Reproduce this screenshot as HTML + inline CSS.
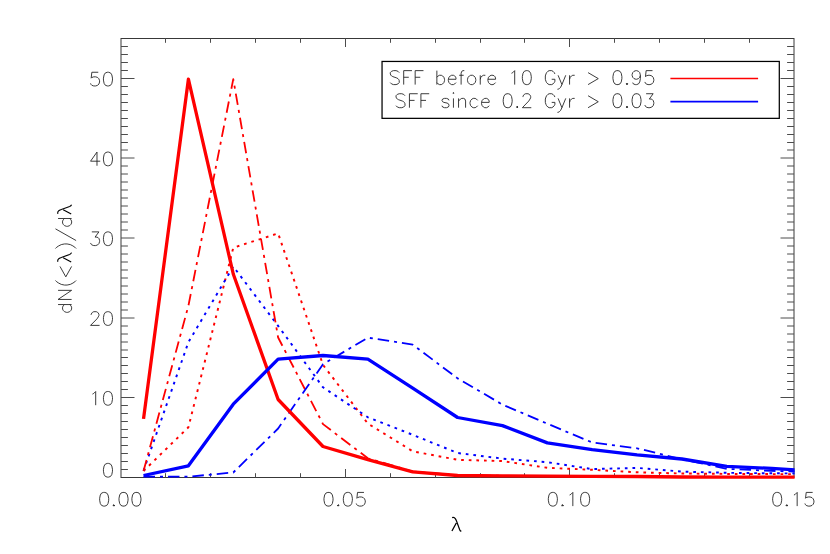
<!DOCTYPE html>
<html><head><meta charset="utf-8"><title>plot</title>
<style>html,body{margin:0;padding:0;background:#fff;font-family:"Liberation Sans",sans-serif;overflow:hidden}svg{display:block;position:absolute;left:0;top:0}</style>
</head><body>
<svg width="830" height="554" viewBox="0 0 830 554">
<rect x="0" y="0" width="830" height="554" fill="#fff"/>
<rect x="121" y="38.5" width="673" height="439" fill="none" stroke="#383838" stroke-width="1"/>
<path d="M165.5,477.5v-4.3M165.5,38.5v4.3M210.5,477.5v-4.3M210.5,38.5v4.3M255.5,477.5v-4.3M255.5,38.5v4.3M300.5,477.5v-4.3M300.5,38.5v4.3M345.5,477.5v-8.5M345.5,38.5v8.5M390.5,477.5v-4.3M390.5,38.5v4.3M435.5,477.5v-4.3M435.5,38.5v4.3M480.5,477.5v-4.3M480.5,38.5v4.3M524.5,477.5v-4.3M524.5,38.5v4.3M569.5,477.5v-8.5M569.5,38.5v8.5M614.5,477.5v-4.3M614.5,38.5v4.3M659.5,477.5v-4.3M659.5,38.5v4.3M704.5,477.5v-4.3M704.5,38.5v4.3M749.5,477.5v-4.3M749.5,38.5v4.3M121,469.5h6.9M794,469.5h-6.9M121,461.5h6.9M794,461.5h-6.9M121,453.5h6.9M794,453.5h-6.9M121,445.5h6.9M794,445.5h-6.9M121,437.5h6.9M794,437.5h-6.9M121,429.5h6.9M794,429.5h-6.9M121,421.5h6.9M794,421.5h-6.9M121,413.5h6.9M794,413.5h-6.9M121,405.5h6.9M794,405.5h-6.9M121,397.5h13.5M794,397.5h-13.5M121,389.5h6.9M794,389.5h-6.9M121,381.5h6.9M794,381.5h-6.9M121,373.5h6.9M794,373.5h-6.9M121,365.5h6.9M794,365.5h-6.9M121,357.5h6.9M794,357.5h-6.9M121,350h6.9M794,350h-6.9M121,342h6.9M794,342h-6.9M121,334h6.9M794,334h-6.9M121,326h6.9M794,326h-6.9M121,318h13.5M794,318h-13.5M121,310h6.9M794,310h-6.9M121,302h6.9M794,302h-6.9M121,294h6.9M794,294h-6.9M121,286h6.9M794,286h-6.9M121,278h6.9M794,278h-6.9M121,270h6.9M794,270h-6.9M121,262h6.9M794,262h-6.9M121,254h6.9M794,254h-6.9M121,246h6.9M794,246h-6.9M121,238h13.5M794,238h-13.5M121,230h6.9M794,230h-6.9M121,222h6.9M794,222h-6.9M121,214h6.9M794,214h-6.9M121,206h6.9M794,206h-6.9M121,198h6.9M794,198h-6.9M121,190h6.9M794,190h-6.9M121,182h6.9M794,182h-6.9M121,174h6.9M794,174h-6.9M121,166h6.9M794,166h-6.9M121,158h13.5M794,158h-13.5M121,150h6.9M794,150h-6.9M121,142.5h6.9M794,142.5h-6.9M121,134.5h6.9M794,134.5h-6.9M121,126.5h6.9M794,126.5h-6.9M121,118.5h6.9M794,118.5h-6.9M121,110.5h6.9M794,110.5h-6.9M121,102.5h6.9M794,102.5h-6.9M121,94.5h6.9M794,94.5h-6.9M121,86.5h6.9M794,86.5h-6.9M121,78.5h13.5M794,78.5h-13.5M121,70.5h6.9M794,70.5h-6.9M121,62.5h6.9M794,62.5h-6.9M121,54.5h6.9M794,54.5h-6.9M121,46.5h6.9M794,46.5h-6.9" fill="none" stroke="#4c4c4c" stroke-width="1"/>
<defs><clipPath id="cp"><rect x="120.1" y="38.5" width="674.5" height="441.15"/></clipPath></defs>
<g clip-path="url(#cp)" fill="none" stroke-linecap="butt">
<polyline points="143.53,471 188.4,427.3 233.27,247.7 278.13,233.4 323,364.9 367.87,423.6 412.73,451.3 457.6,459.8 502.47,461.1 547.33,467.8 592.2,469.8 637.07,472.3 681.93,473.5 726.8,473.9 771.67,474.1 816.53,474.1" stroke="#ff0000" stroke-width="1.95" stroke-dasharray="2.7 4.92" stroke-linejoin="round"/>
<polyline points="143.53,470.7 188.4,342.2 233.27,266.5 278.13,325.9 323,387.3 367.87,417.3 412.73,434.8 457.6,453 502.47,458.6 547.33,462.2 592.2,469.1 637.07,467.9 681.93,471.6 726.8,472.8 771.67,473.3 816.53,473.5" stroke="#0000ff" stroke-width="1.95" stroke-dasharray="2.7 4.92" stroke-linejoin="round"/>
<polyline points="143.53,471 188.4,305.8 233.27,79.1 278.13,337.5 323,424.1 367.87,458.3 412.73,471.5 457.6,475.3 502.47,475.8 547.33,476.1 592.2,476.2 637.07,476.4 681.93,476.9 726.8,477 771.67,477 816.53,477" stroke="#ff0000" stroke-width="1.8" stroke-dasharray="11.5 5.01 3 5.02" stroke-linejoin="round"/>
<polyline points="143.53,476.7 188.4,476.7 233.27,472.5 278.13,428.5 323,364.2 367.87,337.7 412.73,344.6 457.6,378.4 502.47,404.6 547.33,423.7 592.2,442.5 637.07,448.3 681.93,459.3 726.8,468.8 771.67,470.9 816.53,472.3" stroke="#0000ff" stroke-width="1.8" stroke-dasharray="11.5 4.97 3 4.97" stroke-linejoin="round"/>
<polyline points="143.53,418.9 188.4,79.2 233.27,274 278.13,399.5 323,446.5 367.87,459.6 412.73,471.85 457.6,475.5 502.47,475.9 547.33,476.2 592.2,476.3 637.07,476.5 681.93,477 726.8,477.1 771.67,477.1 816.53,477.1" stroke="#ff0000" stroke-width="3.3" stroke-linejoin="round"/>
<polyline points="143.53,475.5 188.4,465.8 233.27,404.2 278.13,359.2 323,355.5 367.87,359.1 412.73,388.1 457.6,417.5 502.47,425.6 547.33,442.9 592.2,449.6 637.07,454.9 681.93,459 726.8,466.4 771.67,468.4 816.53,471.4" stroke="#0000ff" stroke-width="3.3" stroke-linejoin="round"/>
</g>
<rect x="382.05" y="61.45" width="397.25" height="56.9" fill="#fff" stroke="#000" stroke-width="1.25"/>
<path d="M670.4,78.45H758.1" stroke="#ff0000" stroke-width="1.6" fill="none"/>
<path d="M670.4,101.6H758.1" stroke="#0000ff" stroke-width="1.6" fill="none"/>
<path d="M399.22,72.63L397.95,71.3L396.03,70.63L393.48,70.63L391.57,71.3L390.29,72.63L390.29,73.96L390.93,75.29L391.57,75.95L392.84,76.62L396.67,77.95L397.95,78.61L398.59,79.28L399.22,80.61L399.22,82.6L397.95,83.93L396.03,84.6L393.48,84.6L391.57,83.93L390.29,82.6M403.69,70.63L403.69,84.6M403.69,70.63L411.98,70.63M403.69,77.28L408.79,77.28M415.17,70.63L415.17,84.6M415.17,70.63L423.47,70.63M415.17,77.28L420.28,77.28M436.87,70.63L436.87,84.6M436.87,77.28L438.14,75.95L439.42,75.29L441.33,75.29L442.61,75.95L443.88,77.28L444.52,79.28L444.52,80.61L443.88,82.6L442.61,83.93L441.33,84.6L439.42,84.6L438.14,83.93L436.87,82.6M448.35,79.28L456.01,79.28L456.01,77.95L455.37,76.62L454.73,75.95L453.45,75.29L451.54,75.29L450.26,75.95L448.99,77.28L448.35,79.28L448.35,80.61L448.99,82.6L450.26,83.93L451.54,84.6L453.45,84.6L454.73,83.93L456.01,82.6M464.3,70.63L463.02,70.63L461.75,71.3L461.11,73.29L461.11,84.6M459.2,75.29L463.66,75.29M470.68,75.29L469.4,75.95L468.13,77.28L467.49,79.28L467.49,80.61L468.13,82.6L469.4,83.93L470.68,84.6L472.59,84.6L473.87,83.93L475.15,82.6L475.78,80.61L475.78,79.28L475.15,77.28L473.87,75.95L472.59,75.29L470.68,75.29M480.25,75.29L480.25,84.6M480.25,79.28L480.89,77.28L482.16,75.95L483.44,75.29L485.35,75.29M487.91,79.28L495.56,79.28L495.56,77.95L494.92,76.62L494.29,75.95L493.01,75.29L491.1,75.29L489.82,75.95L488.54,77.28L487.91,79.28L487.91,80.61L488.54,82.6L489.82,83.93L491.1,84.6L493.01,84.6L494.29,83.93L495.56,82.6M511.51,73.29L512.79,72.63L514.7,70.63L514.7,84.6M526.19,70.63L524.27,71.3L523,73.29L522.36,76.62L522.36,78.61L523,81.94L524.27,83.93L526.19,84.6L527.46,84.6L529.38,83.93L530.65,81.94L531.29,78.61L531.29,76.62L530.65,73.29L529.38,71.3L527.46,70.63L526.19,70.63M554.9,73.96L554.26,72.63L552.98,71.3L551.71,70.63L549.15,70.63L547.88,71.3L546.6,72.63L545.96,73.96L545.33,75.95L545.33,79.28L545.96,81.27L546.6,82.6L547.88,83.93L549.15,84.6L551.71,84.6L552.98,83.93L554.26,82.6L554.9,81.27L554.9,79.28M551.71,79.28L554.9,79.28M558.09,75.29L561.91,84.6M565.74,75.29L561.91,84.6L560.64,87.26L559.36,88.59L558.09,89.25L557.45,89.25M569.57,75.29L569.57,84.6M569.57,79.28L570.21,77.28L571.48,75.95L572.76,75.29L574.67,75.29M588.07,72.63L598.28,78.61L588.07,84.6M616.78,70.63L614.87,71.3L613.59,73.29L612.95,76.62L612.95,78.61L613.59,81.94L614.87,83.93L616.78,84.6L618.06,84.6L619.97,83.93L621.25,81.94L621.89,78.61L621.89,76.62L621.25,73.29L619.97,71.3L618.06,70.63L616.78,70.63M626.99,83.27L626.35,83.93L626.99,84.6L627.63,83.93L626.99,83.27M640.39,75.29L639.75,77.28L638.47,78.61L636.56,79.28L635.92,79.28L634.01,78.61L632.73,77.28L632.09,75.29L632.09,74.62L632.73,72.63L634.01,71.3L635.92,70.63L636.56,70.63L638.47,71.3L639.75,72.63L640.39,75.29L640.39,78.61L639.75,81.94L638.47,83.93L636.56,84.6L635.28,84.6L633.37,83.93L632.73,82.6M652.51,70.63L646.13,70.63L645.49,76.62L646.13,75.95L648.04,75.29L649.96,75.29L651.87,75.95L653.15,77.28L653.79,79.28L653.79,80.61L653.15,82.6L651.87,83.93L649.96,84.6L648.04,84.6L646.13,83.93L645.49,83.27L644.85,81.94M404.97,95.73L403.69,94.4L401.78,93.73L399.22,93.73L397.31,94.4L396.03,95.73L396.03,97.06L396.67,98.39L397.31,99.06L398.59,99.72L402.41,101.05L403.69,101.72L404.33,102.38L404.97,103.71L404.97,105.7L403.69,107.03L401.78,107.7L399.22,107.7L397.31,107.03L396.03,105.7M409.43,93.73L409.43,107.7M409.43,93.73L417.73,93.73M409.43,100.39L414.54,100.39M420.92,93.73L420.92,107.7M420.92,93.73L429.21,93.73M420.92,100.39L426.02,100.39M448.99,100.39L448.35,99.06L446.44,98.39L444.52,98.39L442.61,99.06L441.97,100.39L442.61,101.72L443.88,102.38L447.07,103.05L448.35,103.71L448.99,105.04L448.99,105.7L448.35,107.03L446.44,107.7L444.52,107.7L442.61,107.03L441.97,105.7M452.82,93.07L453.45,93.73L454.09,93.07L453.45,92.41L452.82,93.07M453.45,98.39L453.45,107.7M458.56,98.39L458.56,107.7M458.56,101.05L460.47,99.06L461.75,98.39L463.66,98.39L464.94,99.06L465.58,101.05L465.58,107.7M477.7,100.39L476.42,99.06L475.15,98.39L473.23,98.39L471.96,99.06L470.68,100.39L470.04,102.38L470.04,103.71L470.68,105.7L471.96,107.03L473.23,107.7L475.15,107.7L476.42,107.03L477.7,105.7M481.53,102.38L489.18,102.38L489.18,101.05L488.54,99.72L487.91,99.06L486.63,98.39L484.72,98.39L483.44,99.06L482.16,100.39L481.53,102.38L481.53,103.71L482.16,105.7L483.44,107.03L484.72,107.7L486.63,107.7L487.91,107.03L489.18,105.7M507.05,93.73L505.13,94.4L503.86,96.4L503.22,99.72L503.22,101.72L503.86,105.04L505.13,107.03L507.05,107.7L508.32,107.7L510.24,107.03L511.51,105.04L512.15,101.72L512.15,99.72L511.51,96.4L510.24,94.4L508.32,93.73L507.05,93.73M517.25,106.37L516.62,107.03L517.25,107.7L517.89,107.03L517.25,106.37M523,97.06L523,96.4L523.63,95.06L524.27,94.4L525.55,93.73L528.1,93.73L529.38,94.4L530.01,95.06L530.65,96.4L530.65,97.72L530.01,99.06L528.74,101.05L522.36,107.7L531.29,107.7M554.9,97.06L554.26,95.73L552.98,94.4L551.71,93.73L549.15,93.73L547.88,94.4L546.6,95.73L545.96,97.06L545.33,99.06L545.33,102.38L545.96,104.38L546.6,105.7L547.88,107.03L549.15,107.7L551.71,107.7L552.98,107.03L554.26,105.7L554.9,104.38L554.9,102.38M551.71,102.38L554.9,102.38M558.09,98.39L561.91,107.7M565.74,98.39L561.91,107.7L560.64,110.36L559.36,111.69L558.09,112.36L557.45,112.36M569.57,98.39L569.57,107.7M569.57,102.38L570.21,100.39L571.48,99.06L572.76,98.39L574.67,98.39M588.07,95.73L598.28,101.72L588.07,107.7M616.78,93.73L614.87,94.4L613.59,96.4L612.95,99.72L612.95,101.72L613.59,105.04L614.87,107.03L616.78,107.7L618.06,107.7L619.97,107.03L621.25,105.04L621.89,101.72L621.89,99.72L621.25,96.4L619.97,94.4L618.06,93.73L616.78,93.73M626.99,106.37L626.35,107.03L626.99,107.7L627.63,107.03L626.99,106.37M635.92,93.73L634.01,94.4L632.73,96.4L632.09,99.72L632.09,101.72L632.73,105.04L634.01,107.03L635.92,107.7L637.2,107.7L639.11,107.03L640.39,105.04L641.03,101.72L641.03,99.72L640.39,96.4L639.11,94.4L637.2,93.73L635.92,93.73M646.13,93.73L653.15,93.73L649.32,99.06L651.23,99.06L652.51,99.72L653.15,100.39L653.79,102.38L653.79,103.71L653.15,105.7L651.87,107.03L649.96,107.7L648.04,107.7L646.13,107.03L645.49,106.37L644.85,105.04M103.53,492.41L101.59,493.06L100.3,495.02L99.66,498.28L99.66,500.23L100.3,503.49L101.59,505.45L103.53,506.1L104.82,506.1L106.75,505.45L108.04,503.49L108.69,500.23L108.69,498.28L108.04,495.02L106.75,493.06L104.82,492.41L103.53,492.41M113.85,504.8L113.2,505.45L113.85,506.1L114.5,505.45L113.85,504.8M122.88,492.41L120.95,493.06L119.66,495.02L119.01,498.28L119.01,500.23L119.66,503.49L120.95,505.45L122.88,506.1L124.17,506.1L126.11,505.45L127.4,503.49L128.04,500.23L128.04,498.28L127.4,495.02L126.11,493.06L124.17,492.41L122.88,492.41M135.78,492.41L133.84,493.06L132.56,495.02L131.91,498.28L131.91,500.23L132.56,503.49L133.84,505.45L135.78,506.1L137.07,506.1L139,505.45L140.29,503.49L140.94,500.23L140.94,498.28L140.29,495.02L139,493.06L137.07,492.41L135.78,492.41M327.86,492.41L325.93,493.06L324.64,495.02L323.99,498.28L323.99,500.23L324.64,503.49L325.93,505.45L327.86,506.1L329.15,506.1L331.09,505.45L332.38,503.49L333.02,500.23L333.02,498.28L332.38,495.02L331.09,493.06L329.15,492.41L327.86,492.41M338.18,504.8L337.54,505.45L338.18,506.1L338.83,505.45L338.18,504.8M347.21,492.41L345.28,493.06L343.99,495.02L343.34,498.28L343.34,500.23L343.99,503.49L345.28,505.45L347.21,506.1L348.5,506.1L350.44,505.45L351.73,503.49L352.37,500.23L352.37,498.28L351.73,495.02L350.44,493.06L348.5,492.41L347.21,492.41M363.98,492.41L357.53,492.41L356.89,498.28L357.53,497.62L359.47,496.97L361.4,496.97L363.34,497.62L364.63,498.93L365.27,500.88L365.27,502.19L364.63,504.14L363.34,505.45L361.4,506.1L359.47,506.1L357.53,505.45L356.89,504.8L356.24,503.49M552.2,492.41L550.26,493.06L548.97,495.02L548.33,498.28L548.33,500.23L548.97,503.49L550.26,505.45L552.2,506.1L553.49,506.1L555.42,505.45L556.71,503.49L557.36,500.23L557.36,498.28L556.71,495.02L555.42,493.06L553.49,492.41L552.2,492.41M562.52,504.8L561.87,505.45L562.52,506.1L563.16,505.45L562.52,504.8M569.61,495.02L570.9,494.36L572.84,492.41L572.84,506.1M584.45,492.41L582.51,493.06L581.22,495.02L580.58,498.28L580.58,500.23L581.22,503.49L582.51,505.45L584.45,506.1L585.74,506.1L587.67,505.45L588.96,503.49L589.61,500.23L589.61,498.28L588.96,495.02L587.67,493.06L585.74,492.41L584.45,492.41M776.53,492.41L774.6,493.06L773.31,495.02L772.66,498.28L772.66,500.23L773.31,503.49L774.6,505.45L776.53,506.1L777.82,506.1L779.75,505.45L781.05,503.49L781.69,500.23L781.69,498.28L781.05,495.02L779.75,493.06L777.82,492.41L776.53,492.41M786.85,504.8L786.21,505.45L786.85,506.1L787.5,505.45L786.85,504.8M793.95,495.02L795.24,494.36L797.17,492.41L797.17,506.1M812.65,492.41L806.2,492.41L805.56,498.28L806.2,497.62L808.13,496.97L810.07,496.97L812,497.62L813.3,498.93L813.94,500.88L813.94,502.19L813.3,504.14L812,505.45L810.07,506.1L808.13,506.1L806.2,505.45L805.56,504.8L804.91,503.49M92.47,394.11L93.76,393.45L95.7,391.5L95.7,405.19M107.31,391.5L105.37,392.15L104.08,394.11L103.44,397.37L103.44,399.32L104.08,402.58L105.37,404.54L107.31,405.19L108.6,405.19L110.53,404.54L111.82,402.58L112.47,399.32L112.47,397.37L111.82,394.11L110.53,392.15L108.6,391.5L107.31,391.5M91.18,314.95L91.18,314.3L91.83,312.99L92.47,312.34L93.76,311.69L96.34,311.69L97.63,312.34L98.28,312.99L98.92,314.3L98.92,315.6L98.28,316.91L96.99,318.86L90.54,325.38L99.57,325.38M107.31,311.69L105.37,312.34L104.08,314.3L103.44,317.56L103.44,319.51L104.08,322.77L105.37,324.73L107.31,325.38L108.6,325.38L110.53,324.73L111.82,322.77L112.47,319.51L112.47,317.56L111.82,314.3L110.53,312.34L108.6,311.69L107.31,311.69M91.83,231.88L98.92,231.88L95.05,237.1L96.99,237.1L98.28,237.75L98.92,238.4L99.57,240.36L99.57,241.66L98.92,243.62L97.63,244.92L95.7,245.57L93.76,245.57L91.83,244.92L91.18,244.27L90.54,242.96M107.31,231.88L105.37,232.53L104.08,234.49L103.44,237.75L103.44,239.7L104.08,242.96L105.37,244.92L107.31,245.57L108.6,245.57L110.53,244.92L111.82,242.96L112.47,239.7L112.47,237.75L111.82,234.49L110.53,232.53L108.6,231.88L107.31,231.88M96.99,152.07L90.54,161.2L100.21,161.2M96.99,152.07L96.99,165.76M107.31,152.07L105.37,152.72L104.08,154.68L103.44,157.94L103.44,159.9L104.08,163.16L105.37,165.11L107.31,165.76L108.6,165.76L110.53,165.11L111.82,163.16L112.47,159.9L112.47,157.94L111.82,154.68L110.53,152.72L108.6,152.07L107.31,152.07M98.28,72.26L91.83,72.26L91.18,78.13L91.83,77.48L93.76,76.83L95.7,76.83L97.63,77.48L98.92,78.78L99.57,80.74L99.57,82.04L98.92,84L97.63,85.3L95.7,85.95L93.76,85.95L91.83,85.3L91.18,84.65L90.54,83.35M107.31,72.26L105.37,72.91L104.08,74.87L103.44,78.13L103.44,80.09L104.08,83.35L105.37,85.3L107.31,85.95L108.6,85.95L110.53,85.3L111.82,83.35L112.47,80.09L112.47,78.13L111.82,74.87L110.53,72.91L108.6,72.26L107.31,72.26M107.31,463.41L105.37,464.06L104.08,466.02L103.44,469.28L103.44,471.23L104.08,474.49L105.37,476.45L107.31,477.1L108.59,477.1L110.53,476.45L111.82,474.49L112.47,471.23L112.47,469.28L111.82,466.02L110.53,464.06L108.59,463.41L107.31,463.41" fill="none" stroke="#262626" stroke-width="0.9" stroke-linejoin="round" stroke-linecap="butt"/>
<path d="M626.99,83.27l-0.64,0.67l0.64,0.67l0.64,-0.67zM517.25,106.37l-0.64,0.67l0.64,0.67l0.64,-0.67zM626.99,106.37l-0.64,0.67l0.64,0.67l0.64,-0.67zM113.85,504.8l-0.65,0.65l0.65,0.65l0.65,-0.65zM338.18,504.8l-0.65,0.65l0.65,0.65l0.65,-0.65zM562.52,504.8l-0.65,0.65l0.65,0.65l0.65,-0.65zM786.85,504.8l-0.65,0.65l0.65,0.65l0.65,-0.65z" fill="#262626" stroke="#262626" stroke-width="0.9" stroke-linejoin="round"/>
<path d="M452.15,517.70 c1.1,-0.45 2.5,-0.05 3.3,1.1 c0.6,0.9 0.9,1.7 1.1,2.3 l3,8.3 c0.4,1 1,1.6 1.75,1.9 M456.30,522.95 l-4.36,8" fill="none" stroke="#000" stroke-width="1.3" stroke-linecap="butt" stroke-linejoin="round"/>
<g transform="translate(71.6,314.3) rotate(-90)">
<path d="M9.75,-13.54L9.75,0M9.75,-7.1L8.45,-8.38L7.15,-9.03L5.2,-9.03L3.9,-8.38L2.6,-7.1L1.95,-5.16L1.95,-3.87L2.6,-1.94L3.9,-0.65L5.2,0L7.15,0L8.45,-0.65L9.75,-1.94M14.85,-13.54L14.85,0M14.85,-13.54L23.95,0M23.95,-13.54L23.95,0M33.8,-16.12L32.5,-14.84L31.2,-12.9L29.9,-10.32L29.25,-7.1L29.25,-4.52L29.9,-1.29L31.2,1.29L32.5,3.23L33.8,4.52M47.85,-11.61L37.45,-5.8L47.85,0M65.8,-16.12L67.1,-14.84L68.4,-12.9L69.7,-10.32L70.35,-7.1L70.35,-4.52L69.7,-1.29L68.4,1.29L67.1,3.23L65.8,4.52M85.45,-16.12L73.75,4.52M95.8,-13.54L95.8,0M95.8,-7.1L94.5,-8.38L93.2,-9.03L91.25,-9.03L89.95,-8.38L88.65,-7.1L88,-5.16L88,-3.87L88.65,-1.94L89.95,-0.65L91.25,0L93.2,0L94.5,-0.65L95.8,-1.94" fill="none" stroke="#262626" stroke-width="0.9" stroke-linejoin="round" stroke-linecap="butt"/>
<path d="M52.50,-13.65 c1.1,-0.45 2.5,-0.05 3.3,1.1 c0.6,0.9 0.9,1.7 1.1,2.3 l3,8.3 c0.4,1 1,1.6 1.75,1.9 M56.65,-8.40 l-4.36,8 M100.45,-13.65 c1.1,-0.45 2.5,-0.05 3.3,1.1 c0.6,0.9 0.9,1.7 1.1,2.3 l3,8.3 c0.4,1 1,1.6 1.75,1.9 M104.60,-8.40 l-4.36,8" fill="none" stroke="#000" stroke-width="1.1" stroke-linecap="butt" stroke-linejoin="round"/>
</g>
</svg>
</body></html>
